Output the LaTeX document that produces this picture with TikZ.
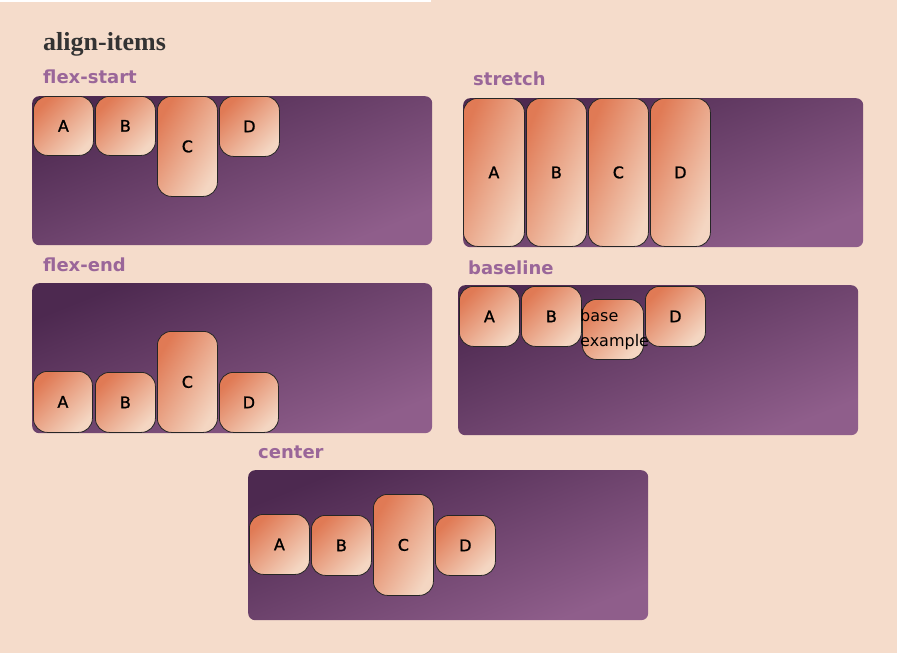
\documentclass[tikz,border=0pt]{standalone}
\usepackage{fontspec}
\setmainfont{Liberation Serif}
\newfontfamily\labfont{DejaVu Sans}
\newfontfamily\itemfont[FakeBold=1.2]{DejaVu Sans}
\definecolor{bgc}{HTML}{F5DCCB}
\definecolor{cdark}{HTML}{4D2950}
\definecolor{clight}{HTML}{8F5E8B}
\definecolor{idark}{HTML}{E07A55}
\definecolor{ilight}{HTML}{F4D6C2}
\definecolor{lab}{HTML}{9A6699}
\definecolor{ttl}{HTML}{333333}
\tikzset{
  box/.style={rectangle, rounded corners=7pt, anchor=north west, inner sep=0pt,
    top color=cdark, bottom color=clight, shading angle=22},
  item/.style={rectangle, rounded corners=14pt, anchor=north west, inner sep=0pt,
    draw=black!85, line width=0.8pt, top color=idark, bottom color=ilight, shading angle=45,
    font=\itemfont\fontsize{16}{18}\selectfont, text=black, minimum width=60pt},
  tallitem/.style={item, shading angle=59},
  longitem/.style={item, shading angle=67},
  sect/.style={anchor=west, inner sep=0pt, text=lab, font=\labfont\bfseries\fontsize{18}{20}\selectfont},
}
\begin{document}
\begin{tikzpicture}[x=1pt,y=-1pt]
\fill[bgc] (0,0) rectangle (897,653);
\useasboundingbox (0,0) rectangle (897,653);
\fill[white] (0,0) rectangle (431,2);
\node[anchor=west, inner sep=0pt, text=ttl, font=\bfseries\fontsize{26}{30}\selectfont] (title) at (43,44) {align-items};

% flex-start
\node[sect] (l1) at (43,77) {flex-start};
\node[box, minimum width=400pt, minimum height=149pt] (c1) at (32,96) {};
\node[item, minimum height=59pt] (a1) at (33,96) {A};
\node[item, minimum height=59pt] (b1) at (95,96) {B};
\node[tallitem, minimum height=100pt] (cc1) at (157,96) {C};
\node[item, minimum height=60pt] (d1) at (219,96) {D};

% stretch
\node[sect] (l2) at (473,79) {stretch};
\node[box, minimum width=400pt, minimum height=149pt] (c2) at (463,98) {};
\node[longitem, minimum height=148pt, minimum width=61pt] (a2) at (463,98) {A};
\node[longitem, minimum height=148pt] (b2) at (526,98) {B};
\node[longitem, minimum height=148pt] (cc2) at (588,98) {C};
\node[longitem, minimum height=148pt] (d2) at (650,98) {D};

% flex-end
\node[sect] (l3) at (43,265) {flex-end};
\node[box, minimum width=400pt, minimum height=150pt] (c3) at (32,283) {};
\node[item, minimum height=61pt, minimum width=59pt] (a3) at (33,371) {A};
\node[item, minimum height=60pt] (b3) at (95,372) {B};
\node[tallitem, minimum height=101pt] (cc3) at (157,331) {C};
\node[item, minimum height=60pt, minimum width=59pt] (d3) at (219,372) {D};

% baseline
\node[sect] (l4) at (468,268) {baseline};
\node[box, minimum width=400pt, minimum height=150pt] (c4) at (458,285) {};
\node[item, minimum height=60pt] (a4) at (459,286) {A};
\node[item, minimum height=60pt] (b4) at (521,286) {B};
\node[item, minimum height=60pt, minimum width=61pt] (cc4) at (582,299) {};
\node[anchor=north west, inner sep=0pt, align=left, font=\labfont\fontsize{16}{25}\selectfont] (t4) at (580,309) {base\\example};
\node[item, minimum height=60pt] (d4) at (645,286) {D};

% center
\node[sect] (l5) at (258,452) {center};
\node[box, minimum width=400pt, minimum height=150pt] (c5) at (248,470) {};
\node[item, minimum height=60pt] (a5) at (249,514) {A};
\node[item, minimum height=60pt] (b5) at (311,515) {B};
\node[tallitem, minimum height=101pt] (cc5) at (373,494) {C};
\node[item, minimum height=60pt] (d5) at (435,515) {D};
\end{tikzpicture}
\end{document}
